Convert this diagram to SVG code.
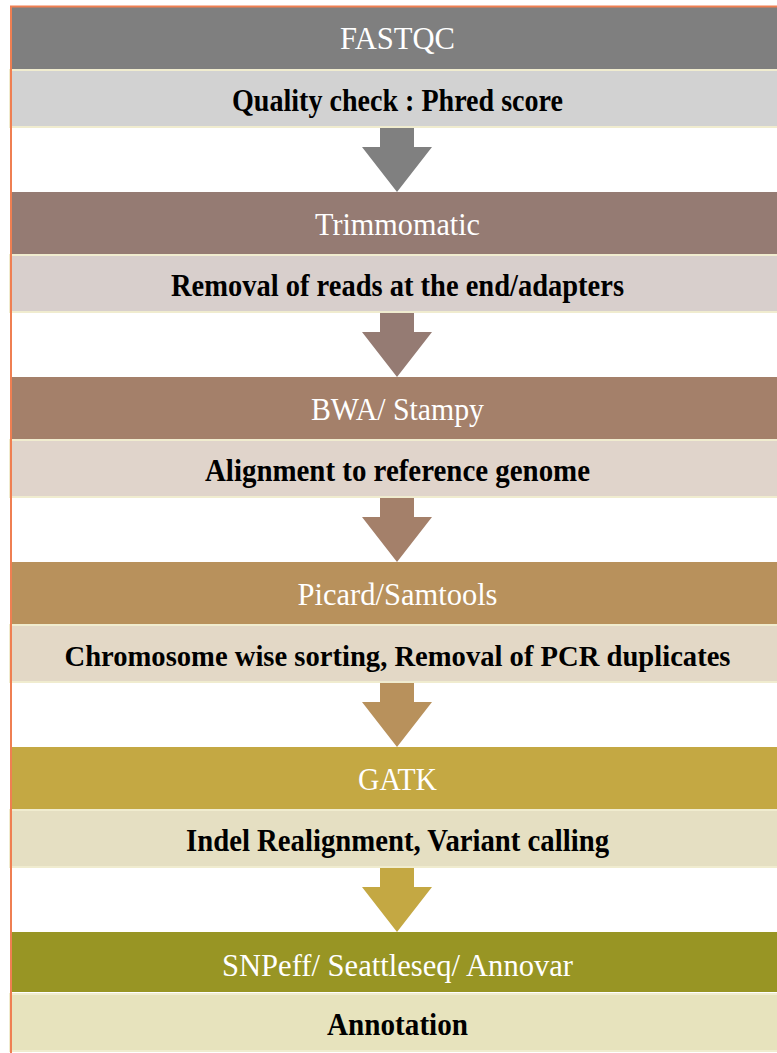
<svg xmlns="http://www.w3.org/2000/svg" width="777" height="1053" viewBox="0 0 777 1053">
<style>
.hd{stroke:none}
.bd{stroke:#f0eccf;stroke-width:2}
.ht{font-family:"Liberation Serif","DejaVu Serif",serif;font-size:31px;fill:#ffffff;text-anchor:middle}
.bt{font-family:"Liberation Serif","DejaVu Serif",serif;font-size:31px;font-weight:bold;fill:#000000;text-anchor:middle}
</style>
<rect width="777" height="1053" fill="#ffffff"/>
<g id="connectors">
<polygon points="380,128 414,128 414,147 432,147 397,192 362,147 380,147" fill="#808080"/>
<polygon points="380,313 414,313 414,332 432,332 397,377 362,332 380,332" fill="#957b73"/>
<polygon points="380,498 414,498 414,517 432,517 397,562 362,517 380,517" fill="#a4806a"/>
<polygon points="380,683 414,683 414,702 432,702 397,747 362,702 380,702" fill="#b8915c"/>
<polygon points="380,868 414,868 414,887 432,887 397,932 362,887 380,887" fill="#c4a843"/>
</g>
<g id="fastqc">
<rect class="hd" x="11" y="7" width="770" height="62" fill="#7f7f7f"/>
<rect class="bd" x="10" y="70" width="770" height="57" fill="#d2d2d2"/>
<text class="ht" x="397.5" y="49" textLength="115" lengthAdjust="spacingAndGlyphs">FASTQC</text>
<text class="bt" x="397.5" y="111" textLength="331" lengthAdjust="spacingAndGlyphs">Quality check : Phred score</text>
</g>
<g id="trimmomatic">
<rect class="hd" x="11" y="192" width="770" height="62" fill="#957b73"/>
<rect class="bd" x="10" y="255" width="770" height="57" fill="#d8cfcc"/>
<text class="ht" x="397.5" y="235" textLength="165" lengthAdjust="spacingAndGlyphs">Trimmomatic</text>
<text class="bt" x="397.5" y="296" textLength="453" lengthAdjust="spacingAndGlyphs">Removal of reads at the end/adapters</text>
</g>
<g id="bwa">
<rect class="hd" x="11" y="377" width="770" height="62" fill="#a4806a"/>
<rect class="bd" x="10" y="440" width="770" height="57" fill="#e0d4cb"/>
<text class="ht" x="397.5" y="420" textLength="173" lengthAdjust="spacingAndGlyphs">BWA/ Stampy</text>
<text class="bt" x="397.5" y="481" textLength="385" lengthAdjust="spacingAndGlyphs">Alignment to reference genome</text>
</g>
<g id="picard">
<rect class="hd" x="11" y="562" width="770" height="62" fill="#b8915c"/>
<rect class="bd" x="10" y="625" width="770" height="57" fill="#e3d8c6"/>
<text class="ht" x="397.5" y="605" textLength="200" lengthAdjust="spacingAndGlyphs">Picard/Samtools</text>
<text class="bt" x="397.5" y="666" font-size="29" style="font-size:29px" textLength="666" lengthAdjust="spacingAndGlyphs">Chromosome wise sorting, Removal of PCR duplicates</text>
</g>
<g id="gatk">
<rect class="hd" x="11" y="747" width="770" height="62" fill="#c4a843"/>
<rect class="bd" x="10" y="810" width="770" height="57" fill="#e5dfc2"/>
<text class="ht" x="397.5" y="790" textLength="79" lengthAdjust="spacingAndGlyphs">GATK</text>
<text class="bt" x="397.5" y="851" textLength="423" lengthAdjust="spacingAndGlyphs">Indel Realignment, Variant calling</text>
</g>
<g id="snpeff">
<rect class="hd" x="11" y="932" width="770" height="60" fill="#989524"/>
<rect class="bd" x="10" y="994" width="770" height="57" fill="#e7e3bd"/>
<text class="ht" x="397.5" y="976" textLength="351" lengthAdjust="spacingAndGlyphs">SNPeff/ Seattleseq/ Annovar</text>
<text class="bt" x="397.5" y="1035" textLength="141" lengthAdjust="spacingAndGlyphs">Annotation</text>
</g>
<g id="frame" fill="none" stroke="#ef7f52" stroke-width="2">
<line x1="10" y1="6.5" x2="777" y2="6.5"/>
<line x1="11" y1="6" x2="11" y2="1053"/>
</g>
</svg>
